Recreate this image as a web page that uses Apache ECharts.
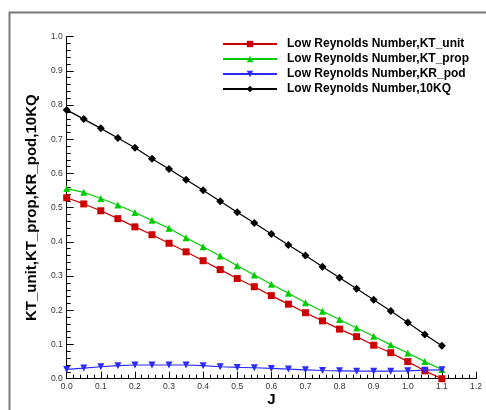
<!DOCTYPE html>
<html>
<head>
<meta charset="utf-8">
<script src="https://cdn.jsdelivr.net/npm/echarts@6/dist/echarts.min.js"></script>
<style>
html,body{margin:0;padding:0;background:#fff;}
#chart{width:486px;height:410px;}
</style>
</head>
<body>
<div id="chart"></div>
<script>
const J = [0, 0.05, 0.1, 0.15, 0.2, 0.25, 0.3, 0.35, 0.4, 0.45, 0.5, 0.55, 0.6, 0.65, 0.7, 0.75, 0.8, 0.85, 0.9, 0.95, 1.0, 1.05, 1.1];
const KT_unit = [0.529,0.511,0.491,0.468,0.444,0.421,0.396,0.371,0.345,0.319,0.293,0.269,0.243,0.218,0.193,0.169,0.145,0.123,0.098,0.076,0.050,0.023,0.000];
const KT_prop = [0.556,0.545,0.527,0.508,0.486,0.463,0.440,0.412,0.386,0.359,0.330,0.303,0.276,0.250,0.222,0.197,0.173,0.148,0.124,0.099,0.075,0.050,0.027];
const KR_pod = [0.027,0.031,0.035,0.038,0.040,0.040,0.040,0.040,0.038,0.035,0.033,0.032,0.030,0.028,0.026,0.024,0.023,0.022,0.022,0.022,0.023,0.025,0.026];
const TenKQ = [0.786,0.759,0.732,0.704,0.675,0.643,0.613,0.582,0.551,0.519,0.487,0.455,0.423,0.391,0.360,0.327,0.295,0.263,0.231,0.198,0.164,0.129,0.096];
const seriesNames = ['Low Reynolds Number,KT_unit','Low Reynolds Number,KT_prop','Low Reynolds Number,KR_pod','Low Reynolds Number,10KQ'];
const xTitle = 'J';
const yTitle = 'KT_unit,KT_prop,KR_pod,10KQ';

const pairs = arr => J.map((x, i) => [x, arr[i]]);
const font = '"Liberation Sans", Arial, sans-serif';

const chart = echarts.init(document.getElementById('chart'), null, {renderer: 'canvas'});
chart.setOption({
  animation: false,
  backgroundColor: '#fff',
  graphic: [{
    type: 'rect', left: 7, top: 10, silent: true,
    shape: {x: 0, y: 0, width: 500, height: 420},
    style: {fill: 'none', stroke: '#7a7a7a', lineWidth: 2}
  }],
  grid: {left: 66.7, right: 10, top: 36.7, bottom: 31.3, containLabel: false, outerBoundsMode: 'none'},
  legend: {
    orient: 'vertical', left: 222, top: 38, padding: 0,
    itemWidth: 54, itemHeight: 8, itemGap: 3,
    textStyle: {fontFamily: font, fontSize: 12, fontWeight: 'bold', color: '#000', lineHeight: 12, padding: [0,0,0,5]},
    data: seriesNames
  },
  xAxis: {
    type: 'value', min: 0, max: 1.2, interval: 0.1,
    name: xTitle, nameLocation: 'middle', nameGap: 14, nameMoveOverlap: false,
    nameTextStyle: {fontFamily: font, fontSize: 15, fontWeight: 'bold', color: '#000'},
    axisLine: {show: true, onZero: false, lineStyle: {color: '#000', width: 1}},
    axisTick: {show: true, inside: true, length: 7, lineStyle: {color: '#000'}},
    minorTick: {show: true, splitNumber: 5, length: 4, lineStyle: {color: '#000'}},
    splitLine: {show: false},
    axisLabel: {fontFamily: font, fontSize: 8.5, color: '#333', margin: 3, formatter: v => v.toFixed(1)}
  },
  yAxis: {
    type: 'value', min: 0, max: 1.0, interval: 0.1,
    name: yTitle, nameLocation: 'middle', nameGap: 27, nameMoveOverlap: false,
    nameTextStyle: {fontFamily: font, fontSize: 15, fontWeight: 'bold', color: '#000'},
    axisLine: {show: true, onZero: false, lineStyle: {color: '#000', width: 1}},
    axisTick: {show: true, inside: true, length: 7, lineStyle: {color: '#000'}},
    minorTick: {show: true, splitNumber: 5, length: 4, lineStyle: {color: '#000'}},
    splitLine: {show: false},
    axisLabel: {fontFamily: font, fontSize: 8.5, color: '#333', margin: 4, formatter: v => v.toFixed(1)}
  },
  series: [
    {name: seriesNames[0], type: 'line', data: pairs(KT_unit), symbol: 'rect', symbolSize: 7,
     lineStyle: {color: '#cc0000', width: 1.2}, itemStyle: {color: '#cc0000'}},
    {name: seriesNames[1], type: 'line', data: pairs(KT_prop), symbol: 'triangle', symbolSize: 7,
     lineStyle: {color: '#00cc00', width: 1.2}, itemStyle: {color: '#00cc00'}},
    {name: seriesNames[2], type: 'line', data: pairs(KR_pod), symbol: 'triangle', symbolRotate: 180, symbolSize: 7,
     lineStyle: {color: '#2b2bff', width: 1.2}, itemStyle: {color: '#2b2bff'}},
    {name: seriesNames[3], type: 'line', data: pairs(TenKQ), symbol: 'diamond', symbolSize: 8,
     lineStyle: {color: '#000', width: 1.2}, itemStyle: {color: '#000'}}
  ]
});
</script>
</body>
</html>
